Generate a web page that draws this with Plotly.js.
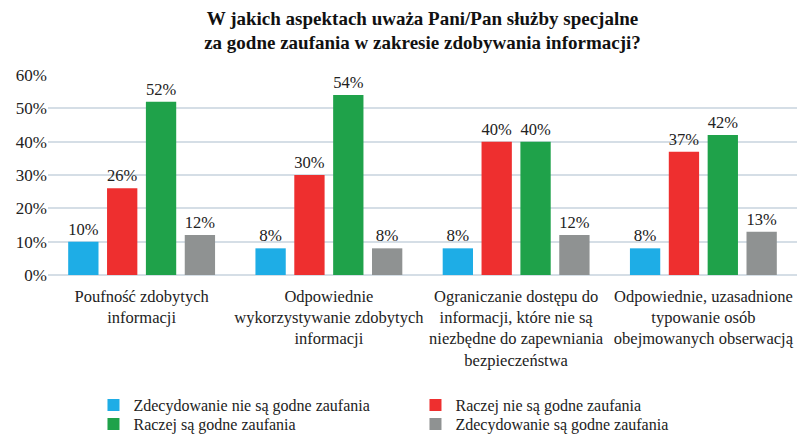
<!DOCTYPE html>
<html>
<head>
<meta charset="utf-8">
<script src="https://cdn.plot.ly/plotly-3.0.1.min.js"></script>
</head>
<body style="margin:0">
<div id="chart" style="width:799px;height:434px"></div>
<script>
const categories = [
  "Poufność zdobytych<br>informacji",
  "Odpowiednie<br>wykorzystywanie zdobytych<br>informacji",
  "Ograniczanie dostępu do<br>informacji, które nie są<br>niezbędne do zapewniania<br>bezpieczeństwa",
  "Odpowiednie, uzasadnione<br>typowanie osób<br>obejmowanych obserwacją"
];
const seriesNames = [
  "Zdecydowanie nie są godne zaufania",
  "Raczej nie są godne zaufania",
  "Raczej są godne zaufania",
  "Zdecydowanie są godne zaufania"
];
const zdecydowanieNie = [10, 8, 8, 8];
const raczejNie = [26, 30, 40, 37];
const raczejTak = [52, 54, 40, 42];
const zdecydowanieTak = [12, 8, 12, 13];
const tickVals = [0, 10, 20, 30, 40, 50, 60];
const tickText = ["0%", "10%", "20%", "30%", "40%", "50%", "60%"];

const colors = ["#1eade6", "#ee2f2f", "#1fa24a", "#8f9292"];
const values = [zdecydowanieNie, raczejNie, raczejTak, zdecydowanieTak];
const legendIds = ["legend", "legend", "legend2", "legend2"];
const FAM = "Liberation Serif";

const traces = values.map((v, i) => ({
  type: "bar",
  name: seriesNames[i],
  x: categories,
  y: v,
  legend: legendIds[i],
  marker: {color: colors[i]},
  text: v.map(d => d + "%"),
  textposition: "outside",
  textfont: {family: FAM, size: 17, color: "#222"},
  cliponaxis: false,
  hoverinfo: "none"
}));

const legendBase = {
  orientation: "h",
  xref: "container", yref: "container",
  x: 0.117, xanchor: "left", yanchor: "middle",
  entrywidth: 277, entrywidthmode: "pixels",
  font: {family: FAM, size: 16, color: "#222"},
  itemwidth: 30, tracegroupgap: 0,
  bgcolor: "rgba(0,0,0,0)"
};

const layout = {
  width: 799, height: 434,
  margin: {l: 48, r: 2, t: 75, b: 159},
  paper_bgcolor: "#fff", plot_bgcolor: "#fff",
  font: {family: FAM, color: "#222", size: 16},
  title: {
    text: "<b>W jakich aspektach uważa Pani/Pan służby specjalne<br>za godne zaufania w zakresie zdobywania informacji?</b>",
    font: {family: FAM, size: 19, color: "#111"},
    x: 0.5, xref: "paper", xanchor: "center",
    y: 0.943, yref: "container", yanchor: "top"
  },
  barmode: "group",
  bargap: 0.17,
  bargroupgap: 0.22,
  xaxis: {
    tickfont: {family: FAM, size: 16.5, color: "#222"},
    showline: false, ticks: "", automargin: false,
    ticklabelstandoff: 9
  },
  yaxis: {
    range: [0, 60],
    tickvals: tickVals, ticktext: tickText,
    tickfont: {family: FAM, size: 17, color: "#222"},
    showgrid: true, gridcolor: "#d5dee6", gridwidth: 1.5,
    zeroline: true, zerolinecolor: "#d5dee6", zerolinewidth: 1.5,
    ticks: "", automargin: false, fixedrange: true
  },
  showlegend: true,
  legend: Object.assign({}, legendBase, {y: 1 - 405 / 434}),
  legend2: Object.assign({}, legendBase, {y: 1 - 424 / 434})
};

Plotly.newPlot("chart", traces, layout, {displayModeBar: false});
</script>
</body>
</html>
